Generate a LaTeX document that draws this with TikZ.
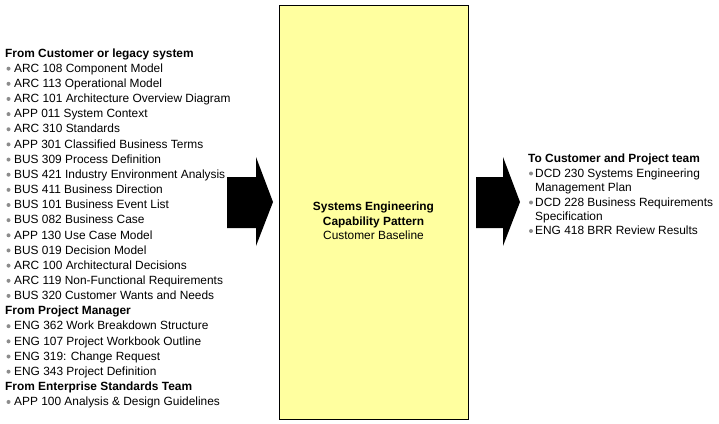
\documentclass[tikz,border=0pt]{standalone}
\usepackage{fontspec}
\setmainfont{Liberation Sans}
\definecolor{boxfill}{HTML}{FFFF9F}
\definecolor{bulletgray}{HTML}{8C8C8C}
\begin{document}
\begin{tikzpicture}[x=1pt,y=-1pt,
  txt/.style={anchor=base west,inner sep=0pt,font=\fontsize{11.9}{13}\selectfont},
  headtxt/.style={anchor=base west,inner sep=0pt,font=\fontsize{11.9}{13}\selectfont\bfseries},
  dot/.style={circle,fill=bulletgray,inner sep=0pt,minimum size=4pt},
  corebox/.style={draw=black,line width=0.9pt,fill=boxfill,minimum width=189pt,minimum height=414pt,inner sep=0pt},
  bigarrow/.style={fill=black}]
\useasboundingbox (0,0) rectangle (719,423);
\fill[white] (0,0) rectangle (719,423);

% central box
\node[corebox] (core) at (373.5,212) {};
\node[align=center,inner sep=0pt,font=\fontsize{11.9}{14.5}\selectfont] (coretext) at (373.5,221)
  {\textbf{Systems Engineering}\\\textbf{Capability Pattern}\\Customer Baseline};

% arrows
\fill[bigarrow] (227,177) -- (256,177) -- (256,157) -- (273,202) -- (256,246) -- (256,228) -- (227,228) -- cycle;
\fill[bigarrow] (476,177) -- (503,177) -- (503,157) -- (520,202) -- (503,246) -- (503,228) -- (476,228) -- cycle;

% left list
\foreach \i/\t/\k in {
 0/From Customer or legacy system/h,
 1/ARC 108 Component Model/b,
 2/ARC 113 Operational Model/b,
 3/ARC 101 Architecture Overview Diagram/b,
 4/APP 011 System Context/b,
 5/ARC 310 Standards/b,
 6/APP 301 Classified Business Terms/b,
 7/BUS 309 Process Definition/b,
 8/BUS 421 Industry Environment Analysis/b,
 9/BUS 411 Business Direction/b,
 10/BUS 101 Business Event List/b,
 11/BUS 082 Business Case/b,
 12/APP 130 Use Case Model/b,
 13/BUS 019 Decision Model/b,
 14/ARC 100 Architectural Decisions/b,
 15/ARC 119 Non-Functional Requirements/b,
 16/BUS 320 Customer Wants and Needs/b,
 17/From Project Manager/h,
 18/ENG 362 Work Breakdown Structure/b,
 19/ENG 107 Project Workbook Outline/b,
 20/ENG 319: Change Request/b,
 21/ENG 343 Project Definition/b,
 22/From Enterprise Standards Team/h,
 23/APP 100 Analysis \& Design Guidelines/b}{
  \pgfmathsetmacro{\yy}{53+15.15*\i}
  \if h\k
    \node[headtxt] (L\i) at (5,\yy+4.2) {\t};
  \else
    \node[dot] (D\i) at (8.5,\yy+0.5) {};
    \node[txt] (L\i) at (14,\yy+4.2) {\t};
  \fi
}

% right list
\node[headtxt] (R0) at (528,162) {To Customer and Project team};
\node[dot] (RD1) at (531,173.5) {};
\node[txt] (R1) at (535,177) {DCD 230 Systems Engineering};
\node[txt] (R1b) at (535,191) {Management Plan};
\node[dot] (RD2) at (531,202.5) {};
\node[txt] (R2) at (535,206) {DCD 228 Business Requirements};
\node[txt] (R2b) at (535,220) {Specification};
\node[dot] (RD3) at (531,231) {};
\node[txt] (R3) at (535,234.5) {ENG 418 BRR Review Results};
\end{tikzpicture}
\end{document}
